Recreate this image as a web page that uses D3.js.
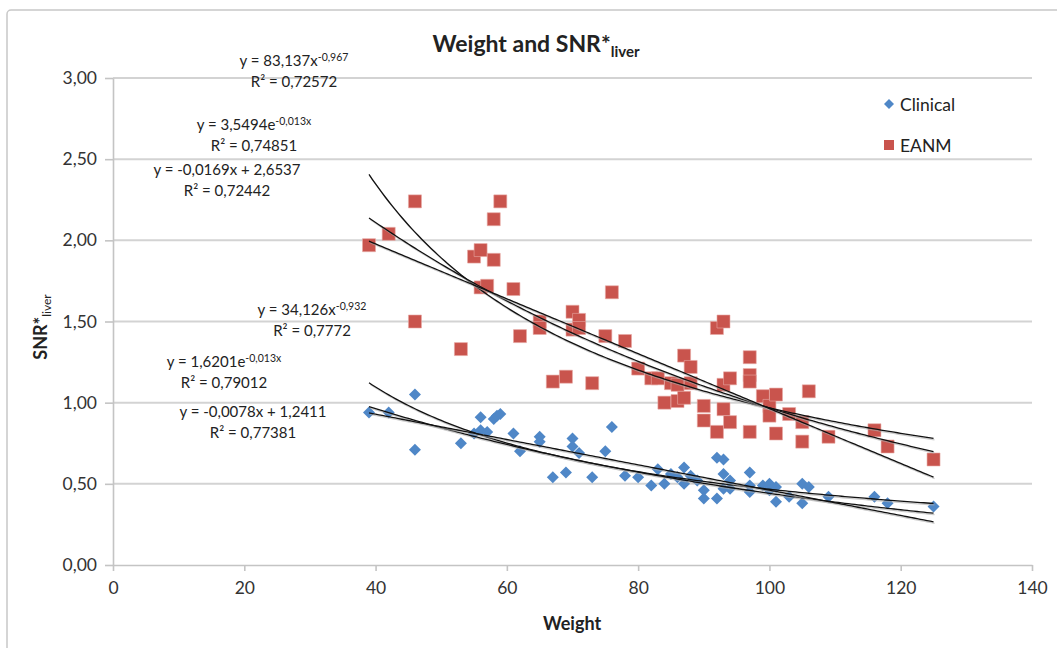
<!DOCTYPE html>
<meta charset="utf-8">
<style>
body { margin: 0; background: #fff; }
svg text { font-family: Lato, "Open Sans", sans-serif; fill: #222; }
.axis path, .axis line { stroke: #c4c4c4; stroke-width: 1.6px; }
.axis text { font-size: 17.5px; fill: #333; }
.grid line { stroke: #d3d3d3; stroke-width: 2px; }
.eq { font-size: 15px; }
.trend { fill: none; stroke: #111; stroke-width: 1.3px; }
.trend-shadow { fill: none; stroke: #aaa; stroke-width: 1.3px; opacity: 0.6; }
</style>
<svg width="1057" height="648"></svg>
<script src="https://d3js.org/d3.v7.min.js"></script>
<script>

// weight / SNR*liver values
var clinical = [
  [39,0.94],[42,0.94],[46,1.05],[46,0.71],[53,0.75],[55,0.81],[56,0.91],[56,0.83],
  [57,0.82],[58,0.90],[58.5,0.92],[59,0.93],[61,0.81],[62,0.70],[65,0.79],[65,0.76],
  [67,0.54],[69,0.57],[70,0.78],[70,0.73],[71,0.69],[73,0.54],[75,0.70],[76,0.85],
  [78,0.55],[80,0.54],[82,0.49],[83,0.59],[84,0.50],[85,0.56],[86,0.54],[87,0.60],
  [87,0.50],[88,0.55],[89,0.52],[90,0.46],[90,0.41],[92,0.66],[92,0.41],[93,0.65],
  [93,0.56],[93,0.47],[94,0.47],[94,0.52],[97,0.57],[97,0.49],[97,0.45],[99,0.49],
  [100,0.50],[100,0.46],[101,0.48],[101,0.39],[103,0.42],[105,0.50],[105,0.38],
  [106,0.48],[109,0.42],[116,0.42],[118,0.38],[125,0.36]
];

var eanm = [
  [39,1.97],[42,2.04],[46,2.24],[46,1.50],[53,1.33],[55,1.90],[56,1.94],[56,1.71],
  [57,1.72],[58,2.13],[58,1.88],[59,2.24],[61,1.70],[62,1.41],[65,1.50],[65,1.46],
  [67,1.13],[69,1.16],[70,1.56],[70,1.45],[71,1.51],[71,1.46],[73,1.12],[75,1.41],
  [76,1.68],[78,1.38],[80,1.21],[82,1.15],[83,1.15],[84,1.00],[85,1.12],[86,1.11],
  [86,1.01],[87,1.03],[87,1.29],[88,1.22],[88,1.12],[90,0.98],[90,0.89],[92,0.82],
  [92,1.46],[93,1.50],[93,1.11],[93,0.96],[94,1.15],[94,0.88],[97,1.28],[97,1.17],
  [97,1.13],[97,0.82],[99,1.04],[100,0.98],[100,0.92],[101,1.05],[101,0.81],[103,0.93],
  [105,0.88],[105,0.76],[106,1.07],[109,0.79],[116,0.83],[118,0.73],[125,0.65]
];

// trendline coefficients as printed on the chart
var eanmPower = [83.137, -0.967];
var eanmExp = [3.5494, -0.013];
var eanmLin = [-0.0169, 2.6537];
var clinPower = [34.126, -0.932];
var clinExp = [1.6201, -0.013];
var clinLin = [-0.0078, 1.2411];
var trendRange = [39, 125];

var xTicks = [0, 20, 40, 60, 80, 100, 120, 140];
var yTicks = [0, 0.5, 1, 1.5, 2, 2.5, 3];

var svg = d3.select("svg");

var x = d3.scaleLinear().domain([0, 140]).range([113, 1032]);
var y = d3.scaleLinear().domain([0, 3]).range([565, 78]);

var loc = d3.formatLocale({decimal: ",", thousands: ".", grouping: [3], currency: ["", ""]});
var fmt = loc.format(".2f");

// chart frame
svg.append("rect")
  .attr("x", 7).attr("y", 10).attr("width", 1100).attr("height", 700)
  .attr("rx", 4)
  .attr("fill", "none").attr("stroke", "#c8c8c8").attr("stroke-width", 1.5);

// gridlines
svg.append("g").attr("class", "grid")
  .selectAll("line").data(yTicks.slice(1)).enter().append("line")
  .attr("x1", x(0)).attr("x2", x(140))
  .attr("y1", function(d) { return y(d); })
  .attr("y2", function(d) { return y(d); });

// axes
svg.append("g").attr("class", "axis")
  .attr("transform", "translate(" + x(0) + ",0)")
  .call(d3.axisLeft(y).tickValues(yTicks).tickFormat(fmt).tickSize(8).tickSizeOuter(0).tickPadding(8));

svg.append("g").attr("class", "axis")
  .attr("transform", "translate(0," + y(0) + ")")
  .call(d3.axisBottom(x).tickValues(xTicks).tickFormat(d3.format("d")).tickSize(6).tickSizeOuter(0).tickPadding(11));

// markers
var diamond = "M0,-6L6,0L0,6L-6,0Z";
var square = "M-6.5,-6.5H6.5V6.5H-6.5Z";

svg.append("g").selectAll("path").data(clinical).enter().append("path")
  .attr("d", diamond)
  .attr("transform", function(d) { return "translate(" + x(d[0]) + "," + y(d[1]) + ")"; })
  .attr("fill", "#4f87c7");

svg.append("g").selectAll("path").data(eanm).enter().append("path")
  .attr("d", square)
  .attr("transform", function(d) { return "translate(" + x(d[0]) + "," + y(d[1]) + ")"; })
  .attr("fill", "#c9544d")
  .attr("stroke", "#e8a9a4").attr("stroke-width", 0.6);

// trendlines
function powerFn(c) { return function(w) { return c[0] * Math.pow(w, c[1]); }; }
function expFn(c) { return function(w) { return c[0] * Math.exp(c[1] * w); }; }
function linFn(c) { return function(w) { return c[0] * w + c[1]; }; }

var fns = [powerFn(eanmPower), expFn(eanmExp), linFn(eanmLin),
           powerFn(clinPower), expFn(clinExp), linFn(clinLin)];

var ws = d3.range(trendRange[0], trendRange[1] + 0.01, 0.5);
var lineGen = d3.line()
  .x(function(d) { return x(d[0]); })
  .y(function(d) { return y(d[1]); });

fns.forEach(function(f) {
  var pts = ws.map(function(w) { return [w, f(w)]; });
  svg.append("path").attr("class", "trend-shadow")
    .attr("transform", "translate(1,1.5)")
    .attr("d", lineGen(pts));
  svg.append("path").attr("class", "trend").attr("d", lineGen(pts));
});

// equation labels
var eqLabels = [
  {cx: 294, y: 66, pre: "y = 83,137x", sup: "-0,967", r2: "0,72572"},
  {cx: 254, y: 130, pre: "y = 3,5494e", sup: "-0,013x", r2: "0,74851"},
  {cx: 227, y: 175, pre: "y = -0,0169x + 2,6537", sup: "", r2: "0,72442"},
  {cx: 312, y: 315, pre: "y = 34,126x", sup: "-0,932", r2: "0,7772"},
  {cx: 224, y: 367, pre: "y = 1,6201e", sup: "-0,013x", r2: "0,79012"},
  {cx: 253, y: 417, pre: "y = -0,0078x + 1,2411", sup: "", r2: "0,77381"}
];

eqLabels.forEach(function(e) {
  var t = svg.append("text").attr("class", "eq")
    .attr("x", e.cx).attr("y", e.y).attr("text-anchor", "middle");
  t.append("tspan").text(e.pre);
  if (e.sup) {
    t.append("tspan").attr("dy", -5).style("font-size", "10.5px").text(e.sup);
  }
  svg.append("text").attr("class", "eq")
    .attr("x", e.cx).attr("y", e.y + 21).attr("text-anchor", "middle")
    .text("R\u00B2 = " + e.r2);
});

// title
var title = svg.append("text")
  .attr("x", 536).attr("y", 52).attr("text-anchor", "middle")
  .style("font-size", "23px").style("font-weight", "bold");
title.append("tspan").text("Weight and SNR*");
title.append("tspan").attr("dy", 5).style("font-size", "15px").text("liver");

// axis titles
svg.append("text")
  .attr("x", 572).attr("y", 630).attr("text-anchor", "middle")
  .style("font-size", "18px").style("font-weight", "bold")
  .text("Weight");

var yt = svg.append("text")
  .attr("transform", "translate(47,327) rotate(-90)")
  .attr("text-anchor", "middle")
  .style("font-size", "18px").style("font-weight", "bold");
yt.append("tspan").text("SNR*");
yt.append("tspan").attr("dy", 4).style("font-size", "12px").style("font-weight", "normal").text("liver");

// legend
var legend = svg.append("g").attr("transform", "translate(889,0)");
legend.append("path").attr("d", "M0,-5L5,0L0,5L-5,0Z")
  .attr("transform", "translate(0,104)").attr("fill", "#4f87c7");
legend.append("text").attr("x", 11).attr("y", 111).style("font-size", "17.5px").text("Clinical");
legend.append("path").attr("d", "M-5,-5H5V5H-5Z")
  .attr("transform", "translate(0,145)").attr("fill", "#c9544d");
legend.append("text").attr("x", 11).attr("y", 152).style("font-size", "17.5px").text("EANM");

</script>
